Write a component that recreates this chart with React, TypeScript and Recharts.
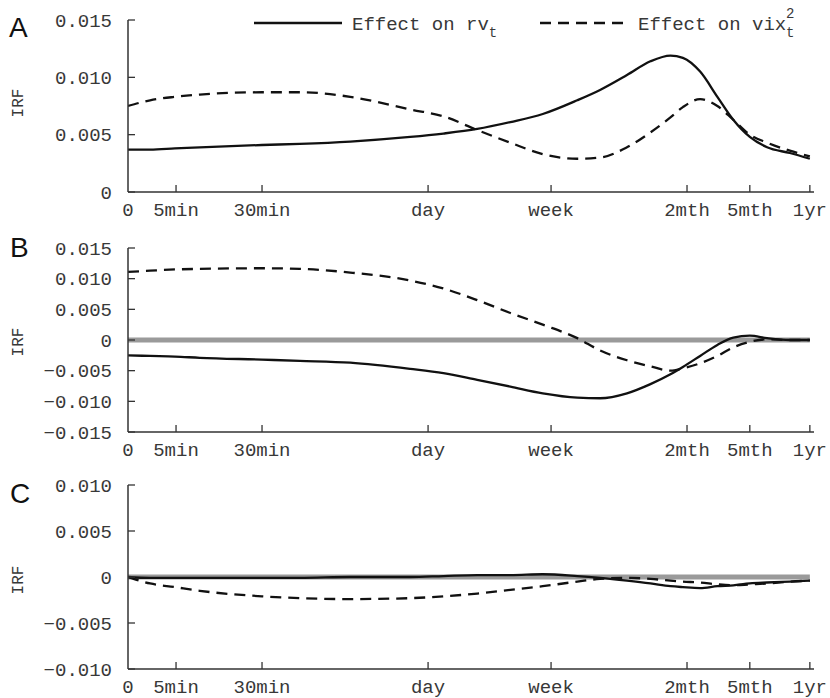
import React from 'react';
import { LineChart, Line, XAxis, YAxis, ReferenceLine } from 'recharts';

// horizon axis in log(1 + lag) units (lag in 5-minute intervals)
const xGrid = [0, 0.32, 0.68, 1.04, 1.94, 2.49, 3.22, 4.09, 4.57, 5.06, 5.54, 6.01, 6.51, 6.84, 7.23, 7.57, 7.86, 8.04, 8.29, 8.54, 8.77, 9.01, 9.26, 9.59, 9.88];
const xTickValues = [0, 0.696, 1.942, 4.348, 6.13, 8.1, 9.01, 9.88];
const xTickLabels = ['0', '5min', '30min', 'day', 'week', '2mth', '5mth', '1yr'];
const xDomain = [0, 9.94];

// Panel A
const aRv = [0.0037, 0.0037, 0.0038, 0.0039, 0.0041, 0.0042, 0.0044, 0.0048, 0.0051, 0.0055, 0.0061, 0.0068, 0.0080, 0.0089, 0.0102, 0.0114, 0.0119, 0.0117, 0.0105, 0.0083, 0.0063, 0.0048, 0.0039, 0.0034, 0.0029];
const aVix = [0.0075, 0.0080, 0.0083, 0.0085, 0.0087, 0.0087, 0.0083, 0.0072, 0.0066, 0.0054, 0.0043, 0.0033, 0.0029, 0.0030, 0.0039, 0.0052, 0.0065, 0.0074, 0.0081, 0.0075, 0.0063, 0.0050, 0.0043, 0.0036, 0.0031];
// Panel B
const bRv = [-0.0025, -0.0026, -0.0027, -0.0029, -0.0032, -0.0034, -0.0037, -0.0047, -0.0054, -0.0065, -0.0076, -0.0087, -0.0094, -0.0095, -0.0087, -0.0072, -0.0056, -0.0044, -0.0026, -0.0008, 0.0004, 0.0007, 0.0003, 0.0000, 0.0000];
const bVix = [0.0111, 0.0113, 0.0115, 0.0116, 0.0117, 0.0116, 0.0110, 0.0097, 0.0084, 0.0065, 0.0044, 0.0025, 0.0003, -0.0017, -0.0033, -0.0043, -0.0050, -0.0046, -0.0038, -0.0026, -0.0012, -0.0003, 0.0001, 0.0000, 0.0000];
// Panel C
const cRv = [0.0000, -0.0001, -0.0001, -0.0001, -0.0001, -0.0001, 0.0000, 0.0000, 0.0001, 0.0002, 0.0002, 0.0003, 0.0001, -0.0001, -0.0004, -0.0007, -0.0010, -0.0011, -0.0012, -0.0010, -0.0009, -0.0007, -0.0006, -0.0005, -0.0004];
const cVix = [0.0000, -0.0007, -0.0011, -0.0015, -0.0021, -0.0023, -0.0024, -0.0023, -0.0021, -0.0018, -0.0014, -0.0010, -0.0005, -0.0002, -0.0001, -0.0002, -0.0004, -0.0005, -0.0006, -0.0008, -0.0009, -0.0008, -0.0007, -0.0005, -0.0004];

const aTicks = [0, 0.005, 0.01, 0.015];
const bTicks = [-0.015, -0.01, -0.005, 0, 0.005, 0.01, 0.015];
const cTicks = [-0.01, -0.005, 0, 0.005, 0.01];

const MONO = '"Liberation Mono", "DejaVu Sans Mono", monospace';
const SANS = '"Liberation Sans", Arial, sans-serif';
const TXT = '#383838';
const AX = '#333';

const fmtY = (v: number) => {
  if (Math.abs(v) < 1e-9) return '0';
  const s = Math.abs(v).toFixed(3);
  return v < 0 ? '\u2212' + s : s;
};

const XTick = (props: any) => {
  const { x, y, payload } = props;
  const idx = xTickValues.indexOf(payload.value);
  const label = idx >= 0 ? xTickLabels[idx] : '';
  return (
    <g>
      {payload.value > 0 && <line x1={x} x2={x} y1={y} y2={y - 7} stroke={AX} strokeWidth={1.3} />}
      <text x={x} y={y + 24} textAnchor="middle" fontFamily={MONO} fontSize={19} fill={TXT}>{label}</text>
    </g>
  );
};

const YTick = (props: any) => {
  const { x, y, payload } = props;
  return (
    <g>
      <line x1={x} x2={x + 7} y1={y} y2={y} stroke={AX} strokeWidth={1.3} />
      <text x={x - 16} y={y} dy="0.35em" textAnchor="end" fontFamily={MONO} fontSize={19} fill={TXT}>{fmtY(payload.value)}</text>
    </g>
  );
};

const makeRows = (rv: number[], vix: number[]) => xGrid.map((x, i) => ({ x, rv: rv[i], vix: vix[i] }));

type PanelProps = {
  top: number;
  height: number;
  marginTop: number;
  marginBottom: number;
  rv: number[];
  vix: number[];
  ticks: number[];
  zeroLine: boolean;
};

const Panel = ({ top, height, marginTop, marginBottom, rv, vix, ticks, zeroLine }: PanelProps) => (
  <div style={{ position: 'absolute', left: 0, top, width: 830, height }}>
    <LineChart width={830} height={height} data={makeRows(rv, vix)} margin={{ top: marginTop, right: 16, bottom: marginBottom, left: 28 }}>
      <XAxis
        dataKey="x"
        type="number"
        domain={xDomain}
        ticks={xTickValues}
        interval={0}
        tickSize={0}
        tickMargin={0}
        tickLine={false}
        tick={<XTick />}
        height={30}
        axisLine={{ stroke: AX, strokeWidth: 1.5 }}
        allowDataOverflow
      />
      <YAxis
        type="number"
        domain={[ticks[0], ticks[ticks.length - 1]]}
        ticks={ticks}
        interval={0}
        tickSize={0}
        tickMargin={0}
        tickLine={false}
        tick={<YTick />}
        width={100}
        axisLine={{ stroke: AX, strokeWidth: 1.5 }}
        allowDataOverflow
      />
      {zeroLine && (
        <ReferenceLine segment={[{ x: 0, y: 0 }, { x: 9.88, y: 0 }]} stroke="#9a9a9a" strokeWidth={5} ifOverflow="visible" />
      )}
      <Line type="monotone" dataKey="vix" stroke="#111" strokeWidth={2.3} strokeDasharray="11 7" dot={false} isAnimationActive={false} />
      <Line type="monotone" dataKey="rv" stroke="#111" strokeWidth={2.3} dot={false} isAnimationActive={false} />
    </LineChart>
  </div>
);

export default function App() {
  return (
    <div style={{ position: 'absolute', left: 0, top: 0, width: 830, height: 698, background: '#fff', overflow: 'hidden' }}>
      <Panel top={0} height={230} marginTop={20} marginBottom={8} rv={aRv} vix={aVix} ticks={aTicks} zeroLine={false} />
      <Panel top={220} height={250} marginTop={28} marginBottom={8} rv={bRv} vix={bVix} ticks={bTicks} zeroLine={true} />
      <Panel top={460} height={238} marginTop={25} marginBottom={-1} rv={cRv} vix={cVix} ticks={cTicks} zeroLine={true} />
      <svg width={830} height={698} style={{ position: 'absolute', left: 0, top: 0, pointerEvents: 'none' }}>
        <text x={9} y={37} fontFamily={SANS} fontSize={28} fill="#111">A</text>
        <text x={10} y={257} fontFamily={SANS} fontSize={28} fill="#111">B</text>
        <text x={10} y={503} fontFamily={SANS} fontSize={28} fill="#111">C</text>
        <text transform="translate(23,103) rotate(-90)" textAnchor="middle" fontFamily={MONO} fontSize={16} fill={TXT}>IRF</text>
        <text transform="translate(23,342) rotate(-90)" textAnchor="middle" fontFamily={MONO} fontSize={16} fill={TXT}>IRF</text>
        <text transform="translate(23,580) rotate(-90)" textAnchor="middle" fontFamily={MONO} fontSize={16} fill={TXT}>IRF</text>
        <line x1={254} x2={342} y1={23} y2={23} stroke="#111" strokeWidth={2.3} />
        <text x={352} y={30} fontFamily={MONO} fontSize={19} fill={TXT}>
          Effect on rv<tspan fontSize={14} dy={7}>t</tspan>
        </text>
        <line x1={540} x2={630} y1={23} y2={23} stroke="#111" strokeWidth={2.3} strokeDasharray="11 7" />
        <text x={638} y={30} fontFamily={MONO} fontSize={19} fill={TXT}>Effect on vix</text>
        <text x={786} y={18} fontFamily={MONO} fontSize={14} fill={TXT}>2</text>
        <text x={786} y={37} fontFamily={MONO} fontSize={14} fill={TXT}>t</text>
      </svg>
    </div>
  );
}
